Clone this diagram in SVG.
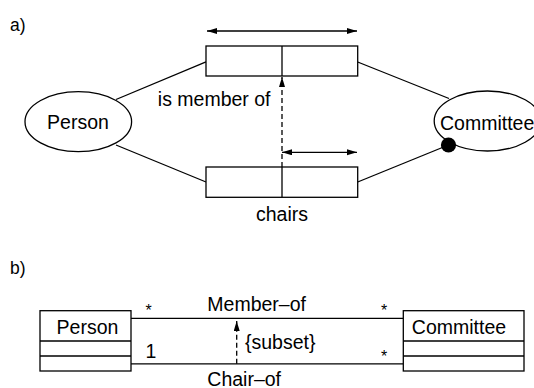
<svg xmlns="http://www.w3.org/2000/svg" width="534" height="388" viewBox="0 0 534 388">
  <style>
    .t { font-family: "Liberation Sans", Arial, Helvetica, sans-serif; font-size: 19.5px; fill: #000; }
    .lbl { font-family: "Liberation Sans", Arial, Helvetica, sans-serif; font-size: 17.5px; fill: #000; }
    .star { font-family: "Liberation Sans", Arial, Helvetica, sans-serif; font-size: 16px; fill: #000; }
    .ln { stroke: #000; stroke-width: 1.3; fill: none; }
    .shape { stroke: #000; stroke-width: 1.3; fill: #fff; }
    .dash { stroke: #000; stroke-width: 1.3; fill: none; stroke-dasharray: 5 3; }
  </style>
  <defs>
    <marker id="head" markerUnits="userSpaceOnUse" markerWidth="10" markerHeight="7" refX="10" refY="3" orient="auto-start-reverse">
      <path d="M0,0 L10,3 L0,6 z" fill="#000"/>
    </marker>
  </defs>

  <!-- a) role-based notation -->
  <text class="lbl" x="10" y="31">a)</text>

  <g id="connectors-a">
    <line class="ln" x1="116" y1="99.5" x2="206" y2="61.8"/>
    <line class="ln" x1="116" y1="145" x2="206" y2="182"/>
    <line class="ln" x1="357.7" y1="62" x2="449" y2="98.5"/>
    <line class="ln" x1="357.7" y1="182" x2="448.5" y2="145"/>
    <line class="ln" x1="207" y1="31" x2="357" y2="31" marker-start="url(#head)" marker-end="url(#head)"/>
    <line class="ln" x1="282" y1="152.3" x2="357" y2="152.3" marker-start="url(#head)" marker-end="url(#head)"/>
    <line class="dash" x1="282" y1="167" x2="282" y2="77" marker-end="url(#head)"/>
  </g>

  <g id="person-a">
    <ellipse class="shape" cx="78.3" cy="121.7" rx="53.3" ry="30"/>
    <text class="t" x="78" y="129.3" text-anchor="middle">Person</text>
  </g>

  <g id="committee-a">
    <ellipse class="shape" cx="487.5" cy="121" rx="53.3" ry="30"/>
    <text class="t" x="440" y="129.5">Committee</text>
    <circle cx="448.5" cy="145" r="7.6" fill="#000"/>
  </g>

  <g id="member-of-a">
    <rect class="shape" x="206" y="46" width="151.7" height="30"/>
    <line class="ln" x1="282" y1="46" x2="282" y2="76"/>
    <text class="t" x="270.5" y="106" text-anchor="end">is member of</text>
  </g>

  <g id="chairs-a">
    <rect class="shape" x="206" y="167" width="151.7" height="30.3"/>
    <line class="ln" x1="282" y1="167" x2="282" y2="197.3"/>
    <text class="t" x="282" y="221" text-anchor="middle">chairs</text>
  </g>

  <!-- b) class-diagram notation -->
  <text class="lbl" x="10" y="274">b)</text>

  <g id="connectors-b">
    <line class="ln" x1="131" y1="318.3" x2="403.3" y2="318.3"/>
    <line class="ln" x1="131" y1="363.8" x2="403.3" y2="363.8"/>
    <line class="dash" x1="236.7" y1="363.8" x2="236.7" y2="321" marker-end="url(#head)"/>
    <text class="t" x="207.3" y="311">Member–of</text>
    <text class="t" x="207.3" y="385.5">Chair–of</text>
    <text class="t" x="245" y="349">{subset}</text>
    <text class="star" x="145.5" y="315.5">*</text>
    <text class="star" x="381" y="315.5">*</text>
    <text class="star" x="381" y="362">*</text>
    <text class="t" x="145.5" y="357.5">1</text>
  </g>

  <g id="person-b">
    <rect class="shape" x="40" y="310.7" width="91" height="60.3"/>
    <line class="ln" x1="40" y1="341" x2="131" y2="341"/>
    <line class="ln" x1="40" y1="356" x2="131" y2="356"/>
    <text class="t" x="87.5" y="334.3" text-anchor="middle">Person</text>
  </g>

  <g id="committee-b">
    <rect class="shape" x="403.3" y="310.7" width="120.7" height="60.3"/>
    <line class="ln" x1="403.3" y1="341" x2="524" y2="341"/>
    <line class="ln" x1="403.3" y1="356" x2="524" y2="356"/>
    <text class="t" x="459" y="334.3" text-anchor="middle">Committee</text>
  </g>
</svg>
